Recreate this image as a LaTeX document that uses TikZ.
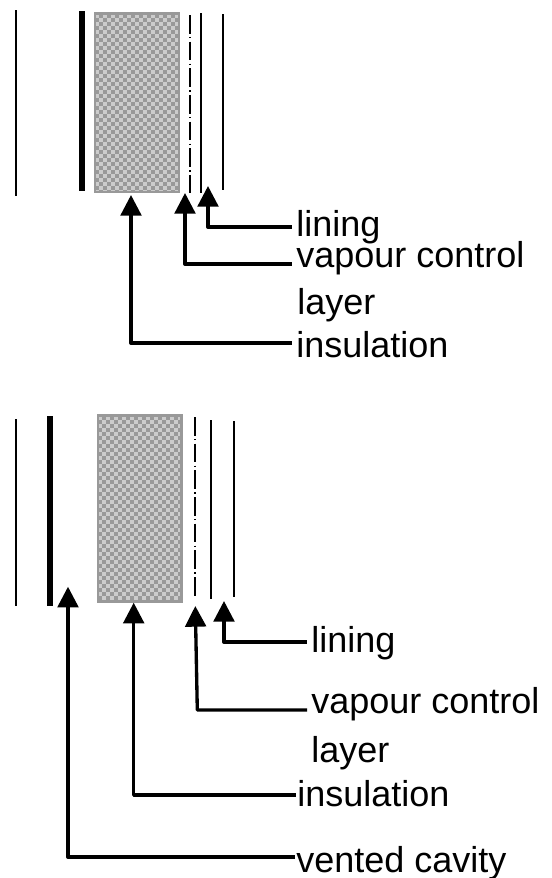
\documentclass[tikz,border=0pt]{standalone}
\usepackage{fontspec}
\setmainfont{Liberation Sans}
\usetikzlibrary{arrows.meta}
\definecolor{boarddark}{gray}{0.6}
\definecolor{boardlight}{gray}{0.8}
\tikzset{
    pointer/.style={line width=2.5pt, line join=round, shorten >=3pt, {Triangle[width=15.5pt,length=15.5pt]}-},
    label/.style={inner sep=0pt, anchor=base west, font=\fontsize{27}{30}\selectfont},
    dashdot/.style={dash pattern=on 14pt off 2.5pt on 1pt off 2.5pt}
}
\newcommand{\checks}[4]{%
    \fill[boarddark] (#1,#2) rectangle (#3,#4);
    \begin{scope}
        \clip (#1,#2) rectangle (#3,#4);
        \foreach \i in {0,...,22}
        {
            \foreach \j in {0,...,47}
            {
                \pgfmathparse{int(mod(\i+\j,2))}
                \ifnum\pgfmathresult=0
                    \fill[boardlight] (#1+\i*4,#2+\j*4) rectangle ++(4,4);
                \fi
            }
        }
    \end{scope}
    \draw[boarddark,line width=2.2pt] (#1,#2) rectangle (#3,#4);
}
\begin{document}
\begin{tikzpicture}[x=0.75pt,y=-0.75pt]
    \useasboundingbox (0,0) rectangle (552,878);
    % upper wall
    \draw[line width=1.2pt] (16,10) -- (16,196);
    \draw[line width=4.5pt] (81.7,11) -- (81.7,191);
    \checks{95}{13.5}{179}{192}
    \draw[line width=1.8pt,dashdot] (190,15) -- (190,193);
    \draw[line width=1.5pt] (200.7,13) -- (200.7,193);
    \draw[line width=1.4pt] (223.3,14) -- (223.3,190);
    % lower wall
    \draw[line width=1.2pt] (16,419) -- (16,606);
    \draw[line width=4.5pt] (50.3,416) -- (50.3,606);
    \checks{98}{415.5}{181.5}{601.5}
    \draw[line width=1.3pt,dashdot] (195,417) -- (195,596);
    \draw[line width=1.4pt] (211,420) -- (211,599);
    \draw[line width=1.4pt] (233.7,421) -- (233.7,597);
    % upper labels
    \node[label] (lining1) at (296,236) {lining};
    \node[label] (vapour1) at (296,267) {vapour control};
    \node[label] (layer1) at (297,314) {layer};
    \node[label] (insul1) at (296,357) {insulation};
    \coordinate (liningtip1) at (208,186);
    \coordinate (liningbend1) at (208,227);
    \coordinate (vapourtip1) at (185,193);
    \coordinate (vapourbend1) at (185,264);
    \coordinate (insultip1) at (131,195);
    \coordinate (insulbend1) at (131,343);
    \draw[pointer] (liningtip1) -- (liningbend1) -- (lining1.west |- liningbend1);
    \draw[pointer] (vapourtip1) -- (vapourbend1) -- (vapour1.west |- vapourbend1);
    \draw[pointer] (insultip1) -- (insulbend1) -- (insul1.west |- insulbend1);
    % lower labels
    \node[label] (lining2) at (311,652) {lining};
    \node[label] (vapour2) at (311,713) {vapour control};
    \node[label] (layer2) at (311,762) {layer};
    \node[label] (insul2) at (297,806) {insulation};
    \node[label] (vented2) at (296,872) {vented cavity};
    \coordinate (liningtip2) at (224,601);
    \coordinate (liningbend2) at (224,642);
    \coordinate (vapourtip2) at (195.3,606);
    \coordinate (vapourbend2) at (197.3,710);
    \coordinate (insultip2) at (133.7,602.7);
    \coordinate (insulbend2) at (133.7,795);
    \coordinate (ventedtip2) at (68,586.7);
    \coordinate (ventedbend2) at (68,857);
    \draw[pointer] (liningtip2) -- (liningbend2) -- (lining2.west |- liningbend2);
    \draw[pointer] (vapourtip2) -- (vapourbend2) -- (vapour2.west |- vapourbend2);
    \draw[pointer,shorten >=1pt] (insultip2) -- (insulbend2) -- (insul2.west |- insulbend2);
    \draw[pointer,shorten >=1pt] (ventedtip2) -- (ventedbend2) -- (vented2.west |- ventedbend2);
\end{tikzpicture}
\end{document}
